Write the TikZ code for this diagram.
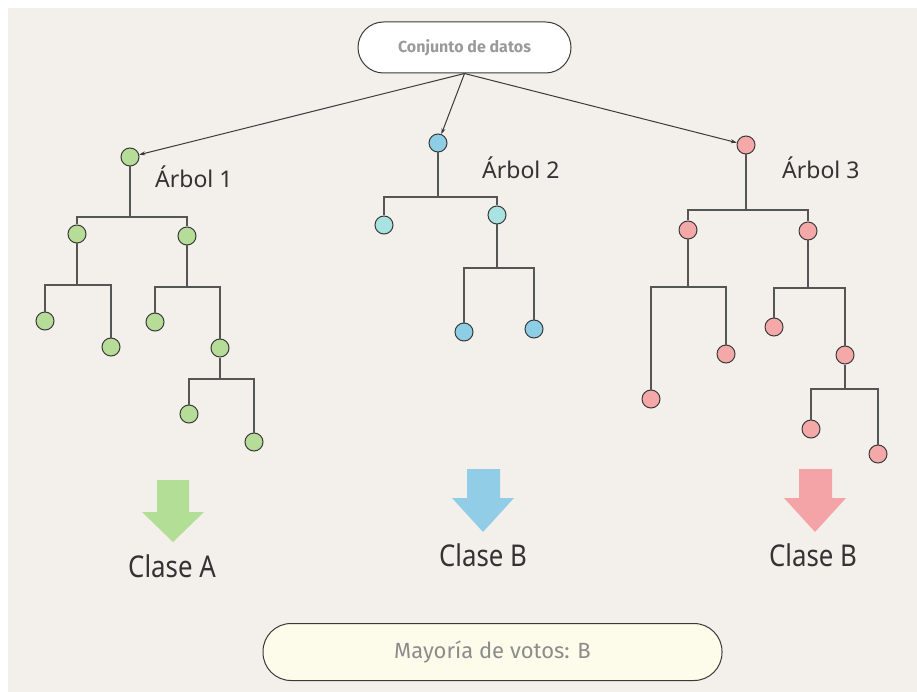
\documentclass[tikz,border=0pt]{standalone}
\usepackage{fontspec}
\setmainfont{Noto Sans}
\newfontfamily\boxfont{Fira Sans}
\newfontfamily\clasefont[FakeStretch=0.86]{Noto Sans}
\usetikzlibrary{arrows.meta}

\definecolor{paper}{HTML}{F3EFEA}
\definecolor{linegray}{HTML}{555555}
\definecolor{ringgray}{HTML}{3A3A3A}
\definecolor{labelgray}{HTML}{333333}
\definecolor{boxtext}{HTML}{9A9A9A}
\definecolor{votetext}{HTML}{8C8C8C}
\definecolor{votefill}{HTML}{FDFBEA}
\definecolor{leafgreen}{HTML}{B5DD98}
\definecolor{leafblue}{HTML}{8ECDE6}
\definecolor{leafcyan}{HTML}{A8E2E1}
\definecolor{leafpink}{HTML}{F4A9A8}
\definecolor{arrgreen}{HTML}{B3DE95}
\definecolor{arrblue}{HTML}{92CDE8}
\definecolor{arrpink}{HTML}{F4A4A6}

\tikzset{
  treenode/.style={circle, draw=ringgray, line width=1pt, minimum size=18pt, inner sep=0pt},
  gnode/.style={treenode, fill=leafgreen},
  bnode/.style={treenode, fill=leafblue},
  cnode/.style={treenode, fill=leafcyan},
  pnode/.style={treenode, fill=leafpink},
  link/.style={draw=linegray, line width=1.3pt},
  feed/.style={draw=ringgray, line width=1pt, -{Stealth[length=6pt,width=4pt]}},
  pill/.style={draw=ringgray, line width=1pt, rounded corners=#1},
  treelabel/.style={anchor=base west, inner sep=0pt, text=labelgray, font=\fontsize{23}{26}\selectfont},
  classlabel/.style={anchor=base, inner sep=0pt, text=labelgray, font=\clasefont\fontsize{30}{34}\selectfont},
}

\begin{document}
\begin{tikzpicture}[x=1pt, y=-1pt]
  % page and paper
  \useasboundingbox (0,0) rectangle (917,692);
  \fill[white] (0,0) rectangle (917,692);
  \fill[paper] (8,8) rectangle (917,692);

  % data set box
  \node[pill=25.5pt, fill=white, minimum width=213pt, minimum height=51pt, inner sep=0pt,
        text=boxtext, font=\boxfont\bfseries\fontsize{16}{18}\selectfont]
        (data) at (464.5,47.5) {Conjunto de datos};

  % ---------------- tree 1 ----------------
  \node[gnode] (t1r)   at (130,157) {};
  \node[gnode] (t1a)   at (77,234) {};
  \node[gnode] (t1b)   at (187,236) {};
  \node[gnode] (t1aa)  at (45,321) {};
  \node[gnode] (t1ab)  at (111,347) {};
  \node[gnode] (t1ba)  at (155,322) {};
  \node[gnode] (t1bb)  at (220,348) {};
  \node[gnode] (t1bba) at (189,414) {};
  \node[gnode] (t1bbb) at (254,442) {};
  \coordinate (t1rj)  at (130,217);
  \coordinate (t1aj)  at (77,285);
  \coordinate (t1bj)  at (187,287);
  \coordinate (t1bbj) at (220,379);
  \draw[link] (t1r) -- (t1rj) -| (t1a);   \draw[link] (t1rj) -| (t1b);
  \draw[link] (t1a) -- (t1aj) -| (t1aa);  \draw[link] (t1aj) -| (t1ab);
  \draw[link] (t1b) -- (t1bj) -| (t1ba);  \draw[link] (t1bj) -| (t1bb);
  \draw[link] (t1bb) -- (t1bbj) -| (t1bba); \draw[link] (t1bbj) -| (t1bbb);
  \node[treelabel] (t1lab) at (155,188) {Árbol 1};

  % ---------------- tree 2 ----------------
  \node[bnode] (t2r)  at (438,143) {};
  \node[cnode] (t2a)  at (384,225) {};
  \node[cnode] (t2b)  at (497,215) {};
  \node[bnode] (t2ba) at (464,332) {};
  \node[bnode] (t2bb) at (534,329) {};
  \coordinate (t2rj) at (438,197);
  \coordinate (t2bj) at (497,268);
  \draw[link] (t2r) -- (t2rj) -| (t2a);  \draw[link] (t2rj) -| (t2b);
  \draw[link] (t2b) -- (t2bj) -| (t2ba); \draw[link] (t2bj) -| (t2bb);
  \node[treelabel] (t2lab) at (482,179) {Árbol 2};

  % ---------------- tree 3 ----------------
  \node[pnode] (t3r)   at (746,145) {};
  \node[pnode] (t3a)   at (688,230) {};
  \node[pnode] (t3b)   at (808,231) {};
  \node[pnode] (t3aa)  at (651,399) {};
  \node[pnode] (t3ab)  at (726,354) {};
  \node[pnode] (t3ba)  at (774,327) {};
  \node[pnode] (t3bb)  at (845,355) {};
  \node[pnode] (t3bba) at (811,429) {};
  \node[pnode] (t3bbb) at (878,454) {};
  \coordinate (t3rj)  at (746,210);
  \coordinate (t3aj)  at (688,287);
  \coordinate (t3bj)  at (808,288);
  \coordinate (t3bbj) at (845,389);
  \draw[link] (t3r) -- (t3rj) -| (t3a);   \draw[link] (t3rj) -| (t3b);
  \draw[link] (t3a) -- (t3aj) -| (t3aa);  \draw[link] (t3aj) -| (t3ab);
  \draw[link] (t3b) -- (t3bj) -| (t3ba);  \draw[link] (t3bj) -| (t3bb);
  \draw[link] (t3bb) -- (t3bbj) -| (t3bba); \draw[link] (t3bbj) -| (t3bbb);
  \node[treelabel] (t3lab) at (782,179) {Árbol 3};

  % data set feeding each tree
  \draw[feed] (data.south) -- (t1r);
  \draw[feed] (data.south) -- (t2r);
  \draw[feed] (data.south) -- (t3r);

  % vote arrows
  \fill[arrgreen] (157,480) -- (189,480) -- (189,512) -- (204,512) -- (173,542)
                  -- (142,512) -- (157,512) -- cycle;
  \fill[arrblue]  (467,469) -- (500,469) -- (500,498) -- (514,498) -- (483,532)
                  -- (452,498) -- (467,498) -- cycle;
  \fill[arrpink]  (799,469) -- (832,469) -- (832,498) -- (846,498) -- (815,532)
                  -- (784,498) -- (799,498) -- cycle;

  % class of each tree
  \node[classlabel] (c1) at (172,577) {Clase A};
  \node[classlabel] (c2) at (483,566) {Clase B};
  \node[classlabel] (c3) at (813,566) {Clase B};

  % majority vote
  \node[pill=28pt, fill=votefill, minimum width=459pt, minimum height=57pt, inner sep=0pt,
        text=votetext, font=\boxfont\fontsize{22}{25}\selectfont]
        (vote) at (492.5,652) {Mayoría de votos: B};
\end{tikzpicture}
\end{document}
